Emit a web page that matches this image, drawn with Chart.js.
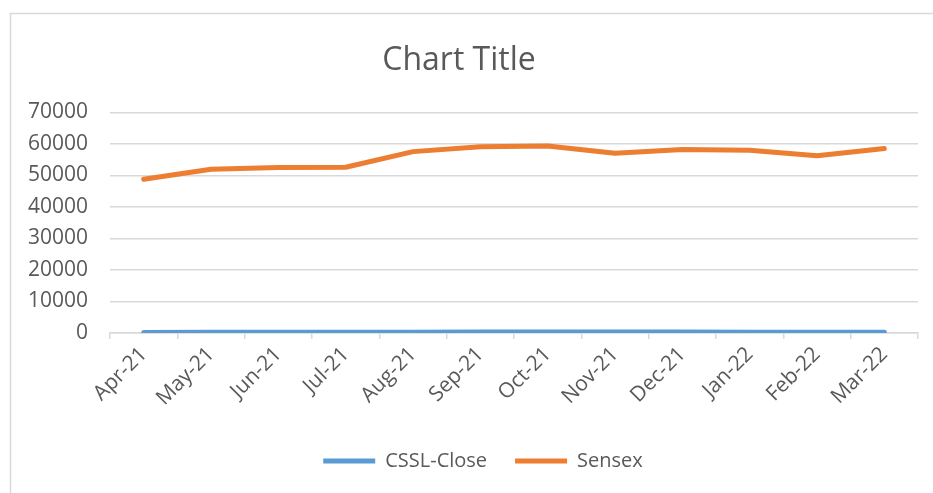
<!DOCTYPE html>
<html>
<head>
<meta charset="utf-8">
<script src="https://cdn.jsdelivr.net/npm/chart.js@4.4.1/dist/chart.umd.min.js"></script>
<style>
  html, body { margin: 0; padding: 0; background: #fff; }
  #wrap { position: relative; width: 933px; height: 493px; }
</style>
</head>
<body>
<div id="wrap"><canvas id="myChart" width="933" height="493"></canvas></div>
<script>
var months = ["Apr-21", "May-21", "Jun-21", "Jul-21", "Aug-21", "Sep-21",
              "Oct-21", "Nov-21", "Dec-21", "Jan-22", "Feb-22", "Mar-22"];
var csslClose = [160, 210, 230, 250, 270, 320, 300, 280, 290, 270, 250, 260];
var sensex = [48782, 51937, 52483, 52587, 57552, 59126, 59307, 57065, 58254, 58014, 56247, 58569];
var yTicks = [0, 10000, 20000, 30000, 40000, 50000, 60000, 70000];

var grey = '#595959';
var gridCol = '#d9d9d9';
var fontName = '"Open Sans", "Liberation Sans", sans-serif';

// light frame around the whole chart, like the Excel chart border
var framePlugin = {
    id: 'frame',
    afterLayout: function(chart) {
        // excel centres the legend a bit right of the canvas centre
        if (chart.legend) chart.legend.left += 48;
    },
    beforeDraw: function(chart) {
        var c = chart.ctx;
        c.save();
        c.strokeStyle = gridCol;
        c.lineWidth = 1.5;
        c.strokeRect(10.5, 13.5, 1000, 1000);
        c.restore();
    }
};

var ctx = document.getElementById('myChart').getContext('2d');
var chart = new Chart(ctx, {
    type: 'line',
    data: {
        labels: months,
        datasets: [{
            label: 'CSSL-Close',
            data: csslClose,
            borderColor: '#5B9BD5',
            backgroundColor: '#5B9BD5',
            borderWidth: 5,
            borderCapStyle: 'round',
            borderJoinStyle: 'round',
            pointRadius: 0,
            tension: 0
        }, {
            label: 'Sensex',
            data: sensex,
            borderColor: '#ED7D31',
            backgroundColor: '#ED7D31',
            borderWidth: 5,
            borderCapStyle: 'round',
            borderJoinStyle: 'round',
            pointRadius: 0,
            tension: 0
        }]
    },
    options: {
        responsive: false,
        animation: false,
        layout: { padding: { left: 0, right: 15, top: 0, bottom: 12 } },
        plugins: {
            title: {
                display: true,
                text: 'Chart Title',
                color: grey,
                font: { family: fontName, size: 32, weight: 'normal' },
                padding: { top: 42, bottom: 32 }
            },
            legend: {
                position: 'bottom',
                labels: {
                    color: grey,
                    font: { family: fontName, size: 20 },
                    usePointStyle: true,
                    pointStyle: 'line',
                    pointStyleWidth: 52,
                    padding: 28
                }
            },
            tooltip: { enabled: false }
        },
        scales: {
            x: {
                offset: true,
                grid: {
                    offset: true,
                    drawOnChartArea: false,
                    color: gridCol,
                    lineWidth: 1.5,
                    tickLength: 6
                },
                border: { color: gridCol, width: 1.5 },
                ticks: {
                    color: grey,
                    font: { family: fontName, size: 21 },
                    minRotation: 45,
                    maxRotation: 45,
                    autoSkip: false,
                    padding: 3
                },
                afterFit: function(scale) { scale.height = 90; }
            },
            y: {
                min: 0,
                max: 70000,
                afterBuildTicks: function(scale) {
                    scale.ticks = yTicks.map(function(v) { return { value: v }; });
                },
                grid: { color: gridCol, lineWidth: 1.5, drawTicks: false },
                border: { display: false },
                ticks: {
                    color: grey,
                    font: { family: fontName, size: 21 },
                    padding: 22,
                    callback: function(v) { return String(v); }
                },
                afterFit: function(scale) { scale.width = 110; }
            }
        }
    },
    plugins: [framePlugin]
});
</script>
</body>
</html>
